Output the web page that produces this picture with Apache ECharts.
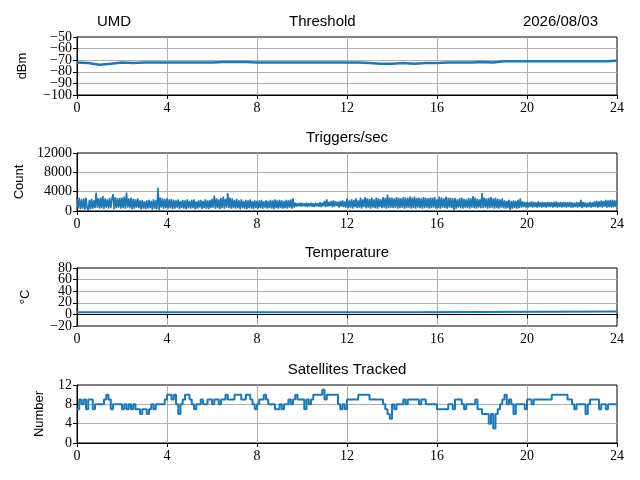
<!DOCTYPE html>
<html>
<head>
<meta charset="utf-8">
<script src="https://cdn.jsdelivr.net/npm/echarts@6/dist/echarts.min.js"></script>
<style>
  html, body { margin: 0; padding: 0; background: #fff; }
  #chart { width: 640px; height: 480px; }
</style>
</head>
<body>
<div id="chart"></div>
<script>
// tick labels
const hourTicks = [0, 4, 8, 12, 16, 20, 24]
const thresholdTicks = [-100, -90, -80, -70, -60, -50]
const triggerTicks = [0, 4000, 8000, 12000]
const tempTicks = [-20, 0, 20, 40, 60, 80]
const satTicks = [0, 4, 8, 12]

// threshold, dBm, one reading every half hour
const thresholdValues = [
    -72, -72.5, -74, -73, -72, -72.5, -72, -72, -72, -72,
    -72, -72, -72, -71.5, -71.5, -71.5, -72, -72, -72, -72,
    -72, -72, -72, -72, -72, -72, -72.5, -73, -73, -72.5,
    -73, -72.5, -72.5, -72, -72, -72, -71.5, -72, -71, -71,
    -71, -71, -71, -71, -71, -71, -71, -71, -70.5
]

// triggers per second, one reading every 0.05 h (one row per hour)
const triggerValues = [
    2500, 600, 2700, 400, 2400, 500, 2600, 300, 2800, 600, 100, 2300, 400, 2500, 500, 2200, 600, 3800, 700, 2600,
    500, 2800, 600, 3100, 400, 2600, 700, 2400, 500, 2700, 600, 2500, 3500, 400, 2900, 600, 2600, 700, 2700, 500,
    2800, 600, 3000, 500, 3800, 700, 2600, 600, 2800, 400, 2500, 500, 2400, 700, 2600, 600, 2200, 400, 2300, 500,
    2000, 400, 2200, 500, 2300, 600, 2100, 300, 2400, 500, 2200, 400, 4800, 100, 2800, 700, 2600, 500, 2500, 600,
    2600, 500, 2400, 600, 2500, 400, 2300, 500, 2200, 700, 2400, 400, 2100, 600, 2300, 500, 2200, 400, 2400, 600,
    2100, 500, 2300, 600, 2400, 400, 2000, 500, 2200, 700, 2300, 400, 2100, 600, 2400, 500, 2200, 400, 2300, 600,
    2500, 700, 3200, 500, 2600, 600, 2400, 400, 2700, 600, 3000, 500, 2500, 700, 3700, 600, 2800, 500, 2600, 600,
    2300, 500, 2500, 600, 2200, 400, 2400, 600, 2100, 500, 2300, 400, 2200, 600, 2400, 500, 2100, 400, 2200, 600,
    2100, 500, 2200, 600, 2300, 500, 2000, 700, 2200, 500, 2100, 600, 2300, 500, 2200, 400, 2400, 600, 2200, 500,
    2300, 600, 2200, 500, 2100, 600, 2300, 500, 2200, 700, 2400, 500, 2600, 700, 1700, 900, 1600, 1000, 1700, 900,
    1700, 1000, 1600, 900, 1700, 800, 1600, 1000, 1700, 900, 1600, 800, 1700, 1000, 1600, 900, 1800, 800, 1700, 1000,
    2100, 800, 2400, 900, 1900, 1000, 2100, 800, 2200, 900, 2000, 1000, 1900, 700, 2100, 900, 2200, 800, 2000, 700,
    2600, 600, 2200, 700, 2400, 500, 2300, 800, 2600, 600, 2200, 700, 2800, 500, 2400, 800, 2900, 600, 2600, 700,
    2500, 500, 2700, 700, 2400, 600, 2800, 500, 2600, 800, 2400, 600, 2900, 700, 2700, 500, 3400, 600, 2800, 700,
    2800, 600, 2600, 700, 2900, 500, 2700, 600, 2600, 700, 2900, 500, 2800, 600, 2700, 700, 3000, 500, 2800, 600,
    3000, 500, 2700, 700, 2800, 600, 2600, 500, 2900, 600, 2700, 700, 2600, 500, 2800, 600, 2700, 700, 2900, 500,
    2400, 600, 3000, 500, 2800, 700, 2600, 600, 3000, 500, 2700, 700, 2800, 600, 2600, 200, 2700, 500, 2400, 700,
    2600, 600, 2800, 500, 2500, 700, 2400, 600, 2700, 500, 2600, 700, 3100, 600, 2800, 500, 2500, 700, 2400, 600,
    3700, 600, 2800, 700, 2600, 500, 2700, 600, 2900, 700, 2600, 500, 2700, 600, 2500, 500, 2400, 700, 2600, 600,
    2200, 500, 2100, 600, 2300, 200, 2100, 500, 2200, 600, 2100, 500, 2300, 600, 2600, 700, 2000, 800, 1900, 700,
    1900, 700, 1800, 800, 2000, 700, 1900, 800, 1800, 700, 2000, 800, 1800, 700, 1900, 800, 1800, 700, 1900, 800,
    1900, 800, 1800, 700, 1900, 800, 2000, 700, 1800, 800, 1900, 700, 1800, 800, 1900, 700, 1800, 800, 1900, 700,
    1800, 700, 1700, 800, 1900, 700, 1800, 800, 2300, 600, 1900, 800, 1800, 700, 1700, 800, 1900, 700, 1800, 800,
    2000, 800, 2100, 700, 2000, 800, 2200, 700, 2100, 900, 2300, 700, 2200, 800, 2300, 700, 2300, 800, 2200, 900,
    2200
]

// temperature, degrees C
const tempTimes = [0, 14.8, 14.8, 24]
const tempValues = [3.5, 3.5, 5, 5]

// satellites tracked, one reading every 0.1 h (one row per hour)
const satValues = [
    7, 9, 8, 9, 7, 9, 9, 7, 8, 8,
    8, 8, 9, 10, 9, 7, 8, 8, 8, 8,
    7, 8, 7, 8, 7, 8, 7, 7, 6, 7,
    7, 6, 7, 8, 7, 8, 8, 8, 8, 9,
    10, 10, 9, 10, 8, 6, 8, 9, 10, 10,
    9, 8, 7, 8, 8, 9, 8, 8, 9, 9,
    8, 9, 9, 8, 9, 9, 10, 9, 9, 9,
    10, 10, 10, 9, 9, 10, 10, 9, 8, 7,
    8, 9, 9, 10, 9, 8, 8, 8, 7, 7,
    8, 7, 8, 8, 9, 8, 9, 10, 9, 9,
    9, 7, 9, 8, 9, 10, 10, 10, 10, 11,
    9, 10, 10, 10, 10, 10, 8, 7, 8, 7,
    9, 9, 9, 9, 9, 10, 10, 10, 10, 10,
    9, 9, 9, 9, 9, 9, 8, 7, 6, 5,
    8, 7, 8, 8, 8, 9, 8, 9, 9, 9,
    9, 9, 8, 9, 9, 8, 8, 8, 8, 8,
    7, 7, 7, 7, 7, 8, 8, 7, 9, 9,
    9, 8, 7, 8, 8, 8, 8, 9, 7, 7,
    6, 6, 6, 4, 6, 3, 6, 7, 8, 9,
    10, 8, 9, 8, 6, 8, 8, 8, 8, 7,
    9, 9, 8, 9, 9, 9, 9, 9, 9, 9,
    9, 10, 10, 10, 10, 10, 10, 10, 9, 9,
    8, 7, 8, 8, 8, 8, 6, 8, 9, 9,
    9, 9, 7, 8, 8, 7, 8, 8, 8, 8,
    8
]

const panels = [
    { title: 'Threshold', name: 'dBm', ticks: thresholdTicks, gap: 48 },
    { title: 'Triggers/sec', name: 'Count', ticks: triggerTicks, gap: 51 },
    { title: 'Temperature', name: '\u00b0C', ticks: tempTicks, gap: 45 },
    { title: 'Satellites Tracked', name: 'Number', ticks: satTicks, gap: 31 },
]
const panelTops = [37, 153, 268, 385]
const panelHeight = 58

const blue = '#1f77b4'
const serif = 'Liberation Serif'
const sans = 'Liberation Sans'
const minus = v => String(v).replace('-', '\u2212')

const timed = (values, step) => values.map((v, i) => [Math.round(i * step * 100) / 100, v])

const seriesData = [
    timed(thresholdValues, 0.5),
    timed(triggerValues, 0.05),
    tempTimes.map((t, i) => [t, tempValues[i]]),
    timed(satValues, 0.1),
]
const lineWidths = [2.5, 1.6, 2, 2]

const labelStyle = { color: '#000', fontFamily: serif, fontSize: 14, margin: 5, formatter: minus }

// labels sit close together on the short panels, so every other one goes on a
// second, otherwise invisible axis to keep ECharts from dropping any of them
const mainAxes = panels.map((p, i) => ({
    type: 'value',
    gridIndex: i,
    min: p.ticks[0],
    max: p.ticks[p.ticks.length - 1],
    interval: p.ticks[1] - p.ticks[0],
    name: p.name,
    nameLocation: 'middle',
    nameGap: p.gap,
    nameTextStyle: { color: '#000', fontFamily: sans, fontSize: 13 },
    axisLine: { show: true, lineStyle: { color: '#000', width: 1 } },
    axisTick: { show: true, length: 4, lineStyle: { color: '#000' } },
    axisLabel: Object.assign({ customValues: p.ticks.filter((t, k) => k % 2 === 0) }, labelStyle),
    splitLine: { show: true, showMinLine: false, showMaxLine: false, lineStyle: { color: '#b0b0b0', width: 1 } },
}))
const extraAxes = panels.map((p, i) => ({
    type: 'value',
    gridIndex: i,
    position: 'left',
    min: p.ticks[0],
    max: p.ticks[p.ticks.length - 1],
    interval: p.ticks[1] - p.ticks[0],
    axisLine: { show: false },
    axisTick: { show: false },
    axisLabel: Object.assign({ customValues: p.ticks.filter((t, k) => k % 2 === 1) }, labelStyle),
    splitLine: { show: false },
}))

const chart = echarts.init(document.getElementById('chart'))
chart.setOption({
    animation: false,
    backgroundColor: '#fff',
    grid: panelTops.map(top => ({
        left: 77,
        right: 23,
        top: top,
        height: panelHeight,
        containLabel: false,
        show: true,
        borderColor: '#000',
        borderWidth: 1,
    })),
    xAxis: panels.map((p, i) => ({
        type: 'value',
        gridIndex: i,
        min: hourTicks[0],
        max: hourTicks[hourTicks.length - 1],
        interval: hourTicks[1] - hourTicks[0],
        axisLine: { show: true, lineStyle: { color: '#000', width: 1 } },
        axisTick: { show: true, length: 4, lineStyle: { color: '#000' } },
        axisLabel: {
            color: '#000', fontFamily: serif, fontSize: 14, margin: 6,
            showMinLabel: true, showMaxLabel: true,
        },
        splitLine: { show: true, showMinLine: false, showMaxLine: false, lineStyle: { color: '#b0b0b0', width: 1 } },
    })),
    yAxis: mainAxes.concat(extraAxes),
    series: seriesData.map((data, i) => ({
        type: 'line',
        xAxisIndex: i,
        yAxisIndex: i,
        data: data,
        step: i === 3 ? 'end' : false,
        showSymbol: false,
        lineStyle: { color: blue, width: lineWidths[i] },
        itemStyle: { color: blue },
        z: 1,
    })),
    graphic: [
        { type: 'text', left: 97, top: 14, style: { text: 'UMD', font: '15px ' + sans, fill: '#000' } },
        { type: 'text', left: 289, top: 14, style: { text: panels[0].title, font: '15px ' + sans, fill: '#000' } },
        { type: 'text', right: 42, top: 14, style: { text: '2026/08/03', font: '15px ' + sans, fill: '#000' } },
    ].concat(panels.slice(1).map((p, i) => ({
        type: 'text',
        x: 347,
        y: panelTops[i + 1] - 15,
        style: {
            text: p.title,
            font: '15px ' + sans,
            fill: '#000',
            align: 'center',
            verticalAlign: 'middle',
        },
    }))),
})
</script>
</body>
</html>
